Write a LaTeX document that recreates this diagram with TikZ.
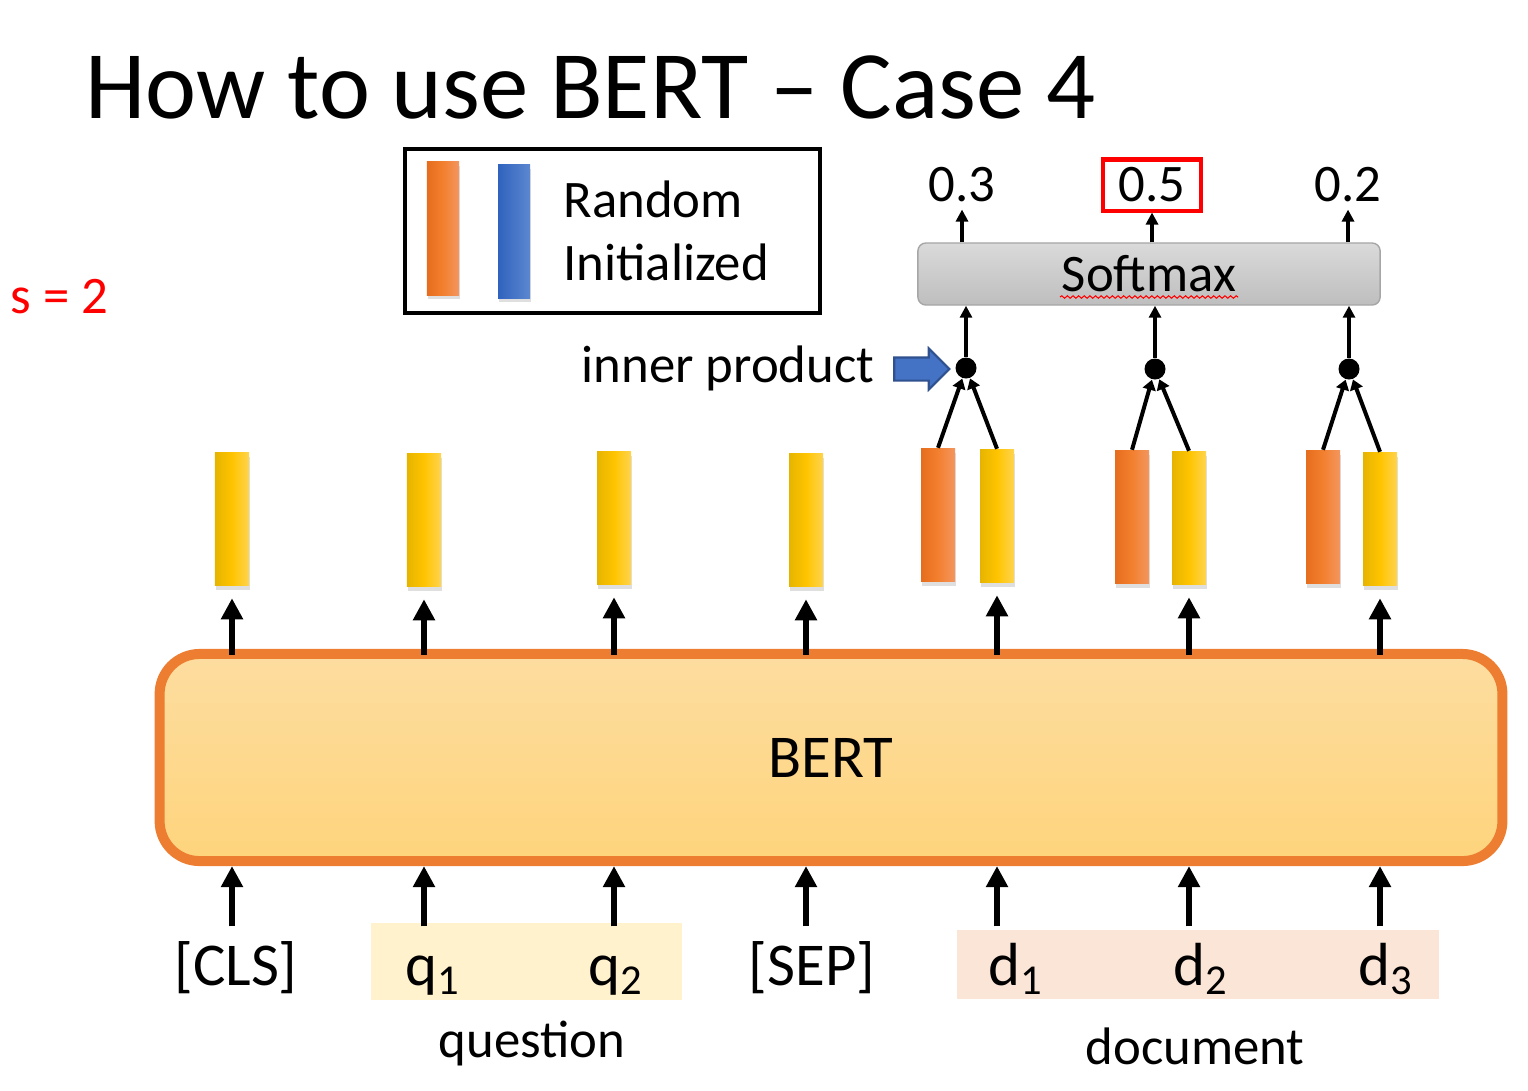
\documentclass[tikz,border=0pt]{standalone}
\usepackage{fontspec}
\setmainfont{Carlito}
\usepackage{xcolor}
\usepackage{tikz}
\usetikzlibrary{arrows.meta,calc,shadows,shapes.arrows,decorations.pathmorphing}
\definecolor{btorange}{RGB}{237,125,49}
\definecolor{btfilltop}{RGB}{253,221,160}
\definecolor{btfillbot}{RGB}{254,212,124}
\definecolor{btorangeL}{RGB}{230,108,30}
\definecolor{btorangeM}{RGB}{243,128,46}
\definecolor{btorangeR}{RGB}{243,150,96}
\definecolor{btyellowL}{RGB}{230,180,0}
\definecolor{btyellow}{RGB}{255,196,0}
\definecolor{btyellowR}{RGB}{255,212,80}
\definecolor{btblueL}{RGB}{47,99,190}
\definecolor{btblueR}{RGB}{92,135,208}
\definecolor{btblue}{RGB}{68,114,196}
\definecolor{btblueline}{RGB}{47,82,143}
\definecolor{btgraytop}{RGB}{218,218,218}
\definecolor{btgraybot}{RGB}{190,190,190}
\definecolor{btgrayline}{RGB}{166,166,166}
\definecolor{btqfill}{RGB}{255,242,204}
\definecolor{btdfill}{RGB}{251,229,214}

\begin{document}
\begin{tikzpicture}[
  x=0.01cm, y=-0.01cm,
  every node/.style={font=\fontsize{15}{18}\selectfont},
  vec/.style={minimum width=0.34cm, minimum height=1.33cm, inner sep=0pt,
    drop shadow={shadow xshift=0.4pt, shadow yshift=-1.2pt, opacity=0.25}},
  yvec/.style={vec, left color=btyellowL, right color=btyellowR, middle color=btyellow},
  ovec/.style={vec, left color=btorangeL, right color=btorangeR, middle color=btorangeM},
  bvec/.style={vec, left color=btblueL, right color=btblueR},
  token/.style={anchor=base, font=\fontsize{17.3}{20}\selectfont,
    text height=0.40cm, text depth=0.12cm, inner ysep=0.18cm},
  band/.style={inner sep=0pt},
  arr/.style={-{Triangle[width=0.21cm,length=0.21cm]}, line width=0.065cm},
  sarr/.style={-{Triangle[width=0.12cm,length=0.12cm]}, line width=0.045cm},
  carr/.style={-{Triangle[width=0.13cm,length=0.10cm]}, line width=0.04cm},
  dot/.style={circle, fill=black, minimum size=0.21cm, inner sep=0pt},
  spell/.style={red, line width=0.3pt, decorate,
    decoration={snake, amplitude=0.35pt, segment length=1.6pt}}
]
  \useasboundingbox (0,0) rectangle (1528,1090);

  \node[anchor=base west, inner sep=0pt, font=\fontsize{27.5}{33}\selectfont] (title) at (85,118) {How to use BERT – Case 4};
  \node[anchor=base west, inner sep=0pt, text=red] (stride) at (10,313) {s = 2};

  % legend
  \node[draw, line width=0.04cm, minimum width=4.15cm, minimum height=1.64cm] (legend) at (612.5,231) {};
  \node[ovec, minimum width=0.32cm] (lorange) at (443,228.5) {};
  \node[bvec, minimum width=0.32cm] (lblue) at (514,231.5) {};
  \node[anchor=west, align=left] (ltext) at (551,231) {Random\\Initialized};

  % softmax and outputs
  \node[draw=btgrayline, rounded corners=0.08cm, top color=btgraytop, bottom color=btgraybot,
    minimum width=4.62cm, minimum height=0.62cm, inner sep=0pt] (sm) at (1149,274) {Softmax};
  \draw[spell] (1060,297) -- (1238,297);
  \node[inner sep=1pt] (o1) at (962,185) {0.3};
  \node[draw=red, line width=0.04cm, minimum width=0.98cm, minimum height=0.51cm, inner sep=1pt] (o2) at (1152,185) {0.5};
  \node[inner sep=1pt] (o3) at (1348,185) {0.2};
  \draw[sarr, shorten >=0.03cm] (sm.north -| o1) -- (o1.south);
  \draw[sarr] (sm.north -| o2) -- (o2.south);
  \draw[sarr, shorten >=0.03cm] (sm.north -| o3) -- (o3.south);

  % inner products
  \node[dot] (p1) at (966,368) {};
  \node[dot] (p2) at (1155,369) {};
  \node[dot] (p3) at (1349,369) {};
  \draw[sarr] (p1.north) -- (p1 |- sm.south);
  \draw[sarr] (p2.north) -- (p2 |- sm.south);
  \draw[sarr] (p3.north) -- (p3 |- sm.south);
  \node[single arrow, fill=btblue, draw=btblueline, line width=0.6pt, minimum height=0.55cm,
    inner xsep=0pt, inner ysep=0.105cm, single arrow head extend=0.09cm] (ipa) at (916,369) {};
  \node[anchor=east, inner sep=0pt] (iptext) at (875,368) {inner product};

  % output vectors
  \node[yvec] (vcls) at (232,519) {};
  \node[yvec] (vq1) at (424,520) {};
  \node[yvec] (vq2) at (614,518) {};
  \node[yvec] (vsep) at (806,520) {};
  \node[ovec] (od1) at (938,515) {};
  \node[yvec] (vd1) at (997,516) {};
  \node[ovec] (od2) at (1132,517) {};
  \node[yvec] (vd2) at (1189,518) {};
  \node[ovec] (od3) at (1323,517) {};
  \node[yvec] (vd3) at (1380,519) {};
  \draw[carr] (od1.north) -- (p1);
  \draw[carr] (vd1.north) -- (p1);
  \draw[carr] (od2.north) -- (p2);
  \draw[carr] (vd2.north) -- (p2);
  \draw[carr] (od3.north) -- (p3);
  \draw[carr] (vd3.north) -- (p3);

  % BERT
  \node[draw=btorange, line width=0.1cm, rounded corners=0.4cm, top color=btfilltop, bottom color=btfillbot,
    minimum width=13.42cm, minimum height=2.07cm, font=\fontsize{17.3}{20}\selectfont] (bert) at (831,757.5) {BERT};
  \draw[arr, shorten <=-0.06cm, shorten >=0.12cm] (vcls |- bert.north) -- (vcls.south);
  \draw[arr, shorten <=-0.06cm, shorten >=0.12cm] (vq1 |- bert.north) -- (vq1.south);
  \draw[arr, shorten <=-0.06cm, shorten >=0.12cm] (vq2 |- bert.north) -- (vq2.south);
  \draw[arr, shorten <=-0.06cm, shorten >=0.12cm] (vsep |- bert.north) -- (vsep.south);
  \draw[arr, shorten <=-0.06cm, shorten >=0.12cm] (vd1 |- bert.north) -- (vd1.south);
  \draw[arr, shorten <=-0.06cm, shorten >=0.12cm] (vd2 |- bert.north) -- (vd2.south);
  \draw[arr, shorten <=-0.06cm, shorten >=0.12cm] (vd3 |- bert.north) -- (vd3.south);

  % input tokens
  \node[band, fill=btqfill, minimum width=3.11cm, minimum height=0.77cm] (qband) at (526.5,961.5) {};
  \node[band, fill=btdfill, minimum width=4.82cm, minimum height=0.69cm] (dband) at (1198,964.5) {};
  \node[token] (tcls) at (236,985) {[CLS]};
  \node[token] (tq1) at (433,985) {q\textsubscript{1}};
  \node[token] (tq2) at (616,985) {q\textsubscript{2}};
  \node[token] (tsep) at (812,985) {[SEP]};
  \node[token] (td1) at (1016,985) {d\textsubscript{1}};
  \node[token] (td2) at (1201,985) {d\textsubscript{2}};
  \node[token] (td3) at (1386,985) {d\textsubscript{3}};
  \draw[arr] (vcls |- tcls.north) -- (vcls |- bert.south);
  \draw[arr] (vq1 |- tq1.north) -- (vq1 |- bert.south);
  \draw[arr] (vq2 |- tq2.north) -- (vq2 |- bert.south);
  \draw[arr] (vsep |- tsep.north) -- (vsep |- bert.south);
  \draw[arr] (vd1 |- td1.north) -- (vd1 |- bert.south);
  \draw[arr] (vd2 |- td2.north) -- (vd2 |- bert.south);
  \draw[arr] (vd3 |- td3.north) -- (vd3 |- bert.south);
  \node (lq) at (532,1043) {question};
  \node (ld) at (1195,1046) {document};
\end{tikzpicture}
\end{document}
